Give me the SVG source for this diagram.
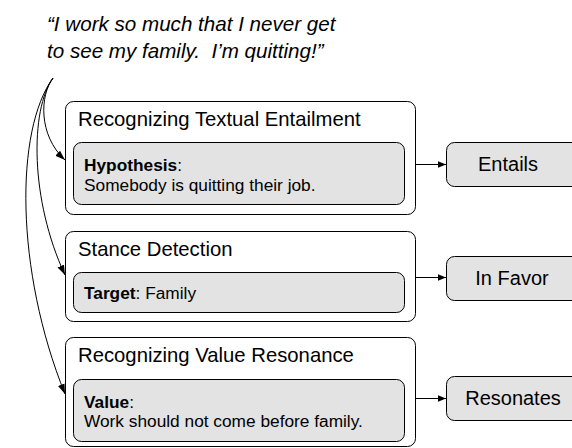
<svg xmlns="http://www.w3.org/2000/svg" width="572" height="448" viewBox="0 0 572 448">
<defs>
<marker id="ah" viewBox="0 0 10 10" refX="10" refY="5" markerWidth="8" markerHeight="8" markerUnits="userSpaceOnUse" orient="auto"><path d="M0,1 L10,5 L0,9 z" fill="#000"/></marker>
<marker id="ah2" viewBox="0 0 10 10" refX="10" refY="5" markerWidth="10" markerHeight="10" markerUnits="userSpaceOnUse" orient="auto"><path d="M0,1.5 L10,5 L0,8.5 z" fill="#000"/></marker>
</defs>
<style>
text{font-family:"Liberation Sans",Arial,sans-serif;fill:#000}
.outer{fill:#fff;stroke:#000;stroke-width:1}
.inner{fill:#e3e3e3;stroke:#000;stroke-width:1}
.title{font-size:20.3px}
.body{font-size:17.3px}
.res{font-size:20px}
.quote{font-size:20.6px;font-style:italic}
.conn{fill:none;stroke:#000;stroke-width:1}
</style>
<g id="quote">
<text class="quote" x="47" y="31">“I work so much that I never get</text>
<text class="quote" x="47" y="58">to see my family.&#160; I’m quitting!”</text>
</g>
<g id="rte">
<rect class="outer" x="65.5" y="101.5" width="350" height="113" rx="8"/>
<text class="title" x="78" y="126">Recognizing Textual Entailment</text>
<rect class="inner" x="73.5" y="142.5" width="331" height="62" rx="8"/>
<text class="body" x="84" y="171"><tspan font-weight="bold">Hypothesis</tspan>:</text>
<text class="body" x="84" y="191">Somebody is quitting their job.</text>
</g>
<g id="stance">
<rect class="outer" x="65.5" y="231.5" width="350" height="90" rx="8"/>
<text class="title" x="78" y="256">Stance Detection</text>
<rect class="inner" x="73.5" y="272.5" width="331" height="40" rx="8"/>
<text class="body" x="84" y="299"><tspan font-weight="bold">Target</tspan>: Family</text>
</g>
<g id="rvr">
<rect class="outer" x="65.5" y="337.5" width="350" height="109" rx="8"/>
<text class="title" x="78" y="362">Recognizing Value Resonance</text>
<rect class="inner" x="73.5" y="379.5" width="331" height="62" rx="8"/>
<text class="body" x="84" y="407.5"><tspan font-weight="bold">Value</tspan>:</text>
<text class="body" x="84" y="427">Work should not come before family.</text>
</g>
<g id="entails">
<rect class="inner" x="446.5" y="142.5" width="140" height="44" rx="8"/>
<text class="res" x="508" y="171" text-anchor="middle">Entails</text>
</g>
<g id="infavor">
<rect class="inner" x="446.5" y="256.5" width="140" height="44" rx="8"/>
<text class="res" x="512" y="285" text-anchor="middle">In Favor</text>
</g>
<g id="resonates">
<rect class="inner" x="446.5" y="376.5" width="140" height="44" rx="8"/>
<text class="res" x="513" y="405" text-anchor="middle">Resonates</text>
</g>
<g id="connectors">
<path class="conn" d="M415.5,164.5 L446,164.5" marker-end="url(#ah)"/>
<path class="conn" d="M415.5,277.5 L446,277.5" marker-end="url(#ah)"/>
<path class="conn" d="M415.5,398.5 L446,398.5" marker-end="url(#ah)"/>
<path class="conn" d="M53,78 C40,95 38,135 65,160" marker-end="url(#ah2)"/>
<path class="conn" d="M53,78 C30,110 30,200 65,275" marker-end="url(#ah2)"/>
<path class="conn" d="M53,78 C15,130 15,270 65,394" marker-end="url(#ah2)"/>
</g>
</svg>
